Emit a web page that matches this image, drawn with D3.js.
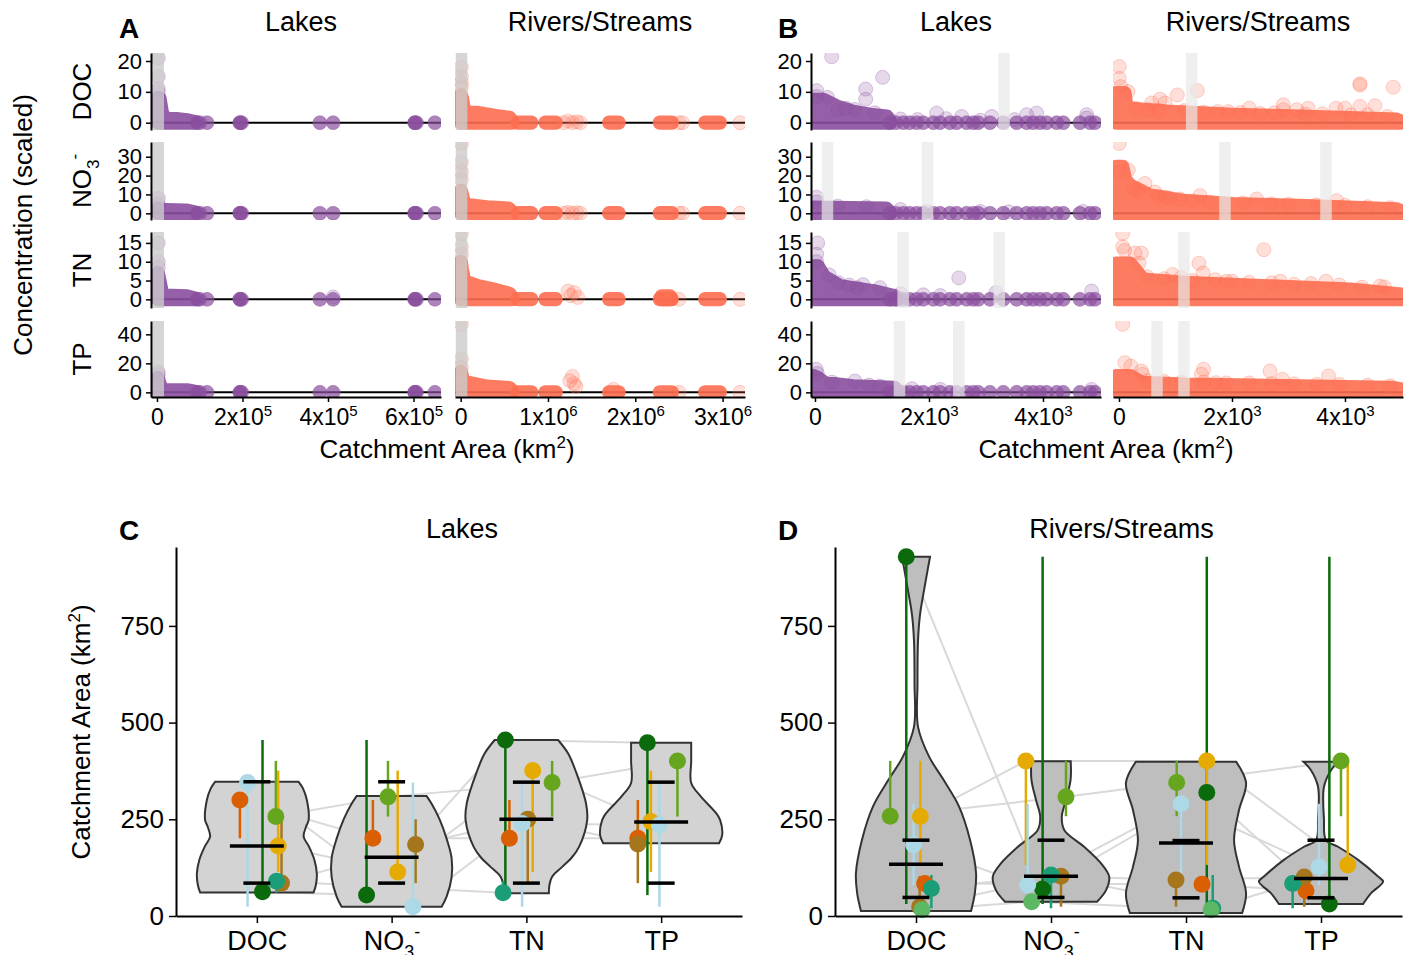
<!DOCTYPE html>
<html>
<head>
<meta charset="utf-8">
<script src="https://cdn.jsdelivr.net/npm/d3@7"></script>
<style>
  body { margin: 0; background: #fff; }
  svg text { font-family: "Liberation Sans", Arial, Helvetica, sans-serif; fill: #000; }
</style>
</head>
<body>
<svg id="chart" width="1413" height="955"></svg>
<script>
// ---------- data: top scatter panels (catchment area vs scaled concentration) ----------
const rowVars = ['DOC', 'NO3', 'TN', 'TP'];
const rowTicks = [[0, 10, 20], [0, 10, 20, 30], [0, 5, 10, 15], [0, 20, 40]];

// A - Lakes
const aLakeTicks = [0, 2e5, 4e5, 6e5];
const aLakeCloud = [
    [[[2000, 8], [6000, 8], [12000, 3], [20000, 1.3], [45000, 1.2], [70000, 0.8], [88000, 0.3]]],
    [[[2000, 2.5], [12000, 2], [20000, 1.7], [70000, 1.5], [88000, 0.5]]],
    [[[2000, 7], [6000, 5], [12000, 1.5], [20000, 1], [70000, 0.8], [88000, 0.3]]],
    [[[2000, 10], [6000, 6], [12000, 2], [20000, 1.5], [70000, 1.5], [88000, 0.5]]]
];
const aLakeTail = [[94000, 0], [100000, 0], [117000, 0], [194000, 0], [194000, 0], [198000, 0],
    [381000, 0], [412000, 0], [603000, 0], [603000, 0], [607000, 0], [650000, 0]];
const aLakePts = [
    [[3000, 21], [3000, 15], [3000, 11], [3000, 10]],
    [[3000, 8], [3000, 5], [3000, 3.5]],
    [[3000, 15], [3000, 10], [3000, 8.5], [412000, 0.6]],
    [[3000, 14], [3000, 12]]
];
const aLakeBand = [[3000], [3000], [3000], [3000]];

// A - Rivers/Streams
const aRiverTicks = [0, 1e6, 2e6, 3e6];
const aRiverClusters = [[[650000, 0.1], [810000, 0.1]], [[970000, 0.1], [1090000, 0.1]],
    [[1700000, 0.1], [1810000, 0.1]], [[2280000, 0.1], [2420000, 0.1]], [[2800000, 0.1], [2970000, 0.1]]];
const aRiverCloud = [
    [[[3000, 9], [15000, 8], [40000, 4], [77000, 3.2], [200000, 3.2], [400000, 2.2], [560000, 1.6], [590000, 0.5]]],
    [[[3000, 12], [15000, 10], [40000, 5], [77000, 4.4], [300000, 3.2], [550000, 2.6], [590000, 0.5]]],
    [[[3000, 10], [15000, 8], [40000, 5], [77000, 4.5], [200000, 3.5], [400000, 2.5], [560000, 1.5], [590000, 0.5]],
     [[2300000, 0.8], [2400000, 0.8]]],
    [[[3000, 14], [20000, 10], [60000, 6.4], [110000, 6.4], [300000, 4], [560000, 3], [590000, 1]]]
];
const aRiverPts = [
    [[8000, 18], [8000, 15], [8000, 13], [8000, 11.5], [1180000, 0], [1230000, 0.5], [1280000, 0],
     [1330000, 0.3], [1370000, 0], [2500000, 0], [2540000, 0], [3200000, 0]],
    [[8000, 37], [8000, 27], [8000, 22], [8000, 18], [1180000, 0], [1230000, 0.5], [1280000, 0],
     [1330000, 0.3], [1370000, 0], [2500000, 0], [2540000, 0], [3200000, 0]],
    [[8000, 17.5], [8000, 14], [8000, 12], [1230000, 2.2], [1260000, 1], [1300000, 1.8], [1340000, 0.5],
     [2500000, 0], [3200000, 0]],
    [[8000, 47], [8000, 23], [8000, 17], [1250000, 8], [1280000, 11], [1300000, 6], [1320000, 4],
     [1750000, 2], [2500000, 0], [3200000, 0]]
];
const aRiverBand = [[10000], [10000], [10000], [10000]];

// B - Lakes (zoom on 0-5000 km2)
const bTicks = [0, 2000, 4000];
const bLakeCloud = [
    [[[-20, 7.4], [150, 7.4], [380, 5.3], [670, 3.6], [965, 2.6], [1260, 2.0], [1320, 0.5]]],
    [[[-20, 3.1], [1250, 2.6], [1320, 0.5]]],
    [[[-20, 8.8], [50, 8.8], [158, 6.1], [447, 3.5], [1030, 2.2], [1395, 0.9], [1450, 0.3]]],
    [[[-20, 11.2], [50, 10], [158, 6.7], [667, 4.3], [1395, 3.2], [1450, 1]]]
];
const bLakeTail = [[1316, 0], [1420, 0], [1550, 0], [1660, 0], [1784, 0], [1900, 0], [2076, 0], [2193, 0],
    [2368, 0], [2486, 0], [2661, 0], [2778, 0], [2865, 0], [3070, 0], [3304, 0], [3538, 0], [3714, 0],
    [3830, 0], [3947, 0], [4064, 0], [4240, 0], [4357, 0], [4649, 0], [4825, 0], [4912, 0]];
const bLakePts = [
    [[30, 10.4], [30, 8.5], [293, 21.4], [1187, 14.7], [889, 10.9], [889, 7.6], [544, 4.7], [400, 4.2],
     [2135, 3.1], [2573, 2.0], [3100, 2.0], [3714, 2.6], [3889, 3.1], [4767, 2.6], [4767, 1.5],
     [220, 8.2], [700, 4.3], [1050, 3.2], [1500, 1.2], [1800, 1.0], [2300, 1.3], [2900, 0.8], [3500, 1.0]],
    [[30, 8.5], [30, 6], [1960, 1], [2900, 1], [3400, 0.8], [4700, 1], [400, 3.8], [900, 3.5], [1500, 2]],
    [[47, 15], [30, 12], [30, 10], [412, 4.4], [737, 3.1], [842, 3.9], [1140, 3.1], [2523, 5.7],
     [3175, 1.8], [4853, 2.2], [1900, 1.2], [250, 6.5], [600, 3.8], [1500, 1.5], [2200, 1.0]],
    [[20, 15.9], [40, 13], [700, 7.8], [1140, 4.3], [2200, 2], [4850, 2], [300, 7], [950, 5], [1700, 2.5]]
];
const bLakeBand = [[3316], [219, 1974], [1547, 3233], [1482, 2523]];

// B - Rivers/Streams
const bRiverCloud = [
    [[[-50, 9.6], [100, 9.6], [136, 4.7], [844, 3.6], [2018, 2.6], [3204, 2.0], [4915, 1.0], [5000, 0.3]]],
    [[[-50, 24.7], [60, 24.7], [110, 18], [195, 14.9], [549, 9.5], [1133, 6.7], [2018, 4.9], [3204, 4.0],
      [4915, 2.2], [5000, 1]]],
    [[[-50, 9.5], [200, 9.5], [425, 5.3], [1168, 4.4], [2640, 3.5], [4100, 2.6], [5000, 1.3]]],
    [[[-50, 11.3], [200, 11.3], [400, 6.7], [1168, 5.5], [4830, 3.2], [5000, 2]]]
];
const bRiverPts = [
    [[5, 18.2], [5, 14.4], [30, 11.7], [160, 10.1], [580, 6.4], [725, 7.6], [815, 6.4], [1032, 9.0],
     [1386, 10.4], [1935, 3.6], [2306, 4.7], [2908, 5.8], [2908, 4.2], [3146, 4.2], [3350, 4.7],
     [3841, 4.7], [4000, 4.7], [4265, 12.6], [4265, 12.2], [4265, 5.3], [4531, 5.5], [4855, 11.5],
     [300, 4.6], [520, 4.2], [700, 4.0], [1150, 3.9], [1500, 3.4], [1750, 3.6], [2150, 3.3], [2500, 3.0],
     [2750, 3.2], [3300, 2.8], [3600, 2.9], [4100, 2.5], [4400, 2.6], [4750, 2.0]],
    [[5, 37], [18, 22], [165, 23], [460, 15.8], [637, 11.3], [814, 8.6], [1080, 7.6], [1434, 9.4],
     [2437, 7.6], [3853, 6.7], [250, 13], [350, 11.5], [700, 9], [900, 8], [1300, 6.5], [1600, 6],
     [2200, 5.5], [2700, 5], [3000, 4.8], [3500, 4.5], [4000, 4.2], [4400, 3.5], [4800, 3]],
    [[65, 17.5], [65, 14], [100, 13], [283, 12.3], [396, 12.3], [354, 9.6], [947, 6.6], [1416, 9.6],
     [1489, 7.0], [2563, 13.2], [1900, 4.8], [2855, 4.8], [3664, 4.8], [4620, 3.5], [500, 6], [800, 5.5],
     [1100, 5.8], [1300, 5], [1700, 5.2], [2000, 4.8], [2300, 4.5], [2700, 4.4], [3100, 4.0], [3400, 4.2],
     [3900, 3.8], [4300, 3.2], [4700, 3.3]],
    [[65, 46.9], [103, 20.5], [212, 18.1], [396, 14.7], [420, 12.4], [1460, 12.4], [1497, 15.9],
     [2673, 14.7], [2892, 9.0], [3708, 11.3], [1717, 6.7], [500, 8], [800, 7.5], [1100, 7], [1500, 7.2],
     [1900, 6.5], [2300, 6.5], [2700, 6], [3100, 5.8], [3500, 5.5], [3900, 5.5], [4400, 5], [4800, 4.5]]
];
const bRiverBand = [[1287], [1876, 3664], [1150], [673, 1150]];

// ---------- data: bottom violin panels (catchment area by variable) ----------
const vioVars = ['DOC', 'NO3', 'TN', 'TP'];
const groupNames = ['darkgreen', 'lightgreen', 'gold', 'orange', 'brown', 'lightblue', 'teal', 'medgreen'];
const areaTicks = [0, 250, 500, 750];

// median catchment area per dataset (rows follow groupNames, columns follow vioVars)
const lakeArea = [
    [63, 54, 455, 448], [257, 308, 345, 401], [181, 114, 376, 244], [300, 201, 201, 201],
    [85, 185, 250, 186], [345, 24, 239, 235], [90, null, 60, null], [null, null, null, null]
];
const lakeJitter = [
    [0.042, -0.186, -0.156, -0.102], [0.141, -0.027, 0.191, 0.121], [0.158, 0.045, 0.047, -0.076],
    [-0.126, -0.139, -0.126, -0.173], [0.183, 0.178, 0.01, -0.173], [-0.069, 0.158, -0.032, -0.013],
    [0.146, 0, -0.173, 0], [0, 0, 0, 0]
];
const riverArea = [
    [929, 70, 319, 31], [258, 308, 345, 401], [257, 401, 401, 132], [84, null, 82, 65],
    [24, 103, 93, 101], [184, 80, 290, 127], [71, 106, 20, 84], [16, 37, 16, null]
];
const riverJitter = [
    [-0.072, -0.062, 0.154, 0.062], [-0.191, 0.111, -0.069, 0.148], [0.032, -0.186, 0.154, 0.198],
    [0.064, 0, 0.119, -0.111], [0.027, 0.074, -0.074, -0.124], [-0.018, -0.173, -0.037, -0.015],
    [0.114, 0, 0.198, -0.21], [0.045, -0.143, 0.186, 0]
];
// quantile bars: [low, mid, high]
const lakeQuant = [[85, 181, 347], [85, 152, 347], [85, 250, 346], [85, 243, 346]];
const riverQuant = [[48, 134, 196], [48, 103, 196], [47, 189, 195], [47, 97, 196]];

// violin outlines: [area, half width as share of category step]
const lakeViolin = [
    [[61, 0.421], [80, 0.438], [110, 0.445], [145, 0.427], [180, 0.386], [205, 0.347], [230, 0.364],
     [248, 0.384], [300, 0.371], [330, 0.342], [347, 0.31]],
    [[24, 0.371], [50, 0.408], [100, 0.445], [150, 0.445], [200, 0.408], [250, 0.356], [290, 0.297], [310, 0.26]],
    [[59, 0.167], [80, 0.171], [101, 0.19], [127, 0.266], [150, 0.334], [178, 0.39], [248, 0.451],
     [292, 0.442], [370, 0.371], [420, 0.31], [455, 0.235]],
    [[188, 0.43], [209, 0.453], [248, 0.438], [266, 0.408], [308, 0.297], [344, 0.223], [400, 0.223], [448, 0.223]]
];
const riverViolin = [
    [[13, 0.408], [59, 0.436], [110, 0.445], [196, 0.401], [283, 0.319], [352, 0.204], [412, 0.097],
     [489, 0.015], [600, 0.011], [713, 0.015], [780, 0.03], [843, 0.06], [900, 0.089], [929, 0.104]],
    [[37, 0.341], [67, 0.408], [102, 0.431], [136, 0.371], [179, 0.245], [222, 0.099], [257, 0.08],
     [300, 0.111], [352, 0.145], [400, 0.146]],
    [[8, 0.416], [59, 0.445], [127, 0.393], [196, 0.356], [274, 0.393], [344, 0.445], [399, 0.371]],
    [[31, 0.312], [59, 0.371], [89, 0.46], [102, 0.423], [145, 0.275], [179, 0.126], [196, 0.037],
     [250, 0.022], [334, 0.022], [377, 0.074], [399, 0.13]]
];

// ---------- styles ----------
const lakeColor = '#8a4f9e';
const riverColor = '#fd6e50';
const groupColors = {
    darkgreen: '#0b6a0b', lightgreen: '#66a61e', gold: '#e6ab02', orange: '#d95f02',
    brown: '#a6761d', lightblue: '#add8e6', teal: '#1b9e77', medgreen: '#5cb865'
};
const svg = d3.select('#chart');

function addVarLabel(sel, v, subSize) {
    if (v === 'NO3') {
        sel.append('tspan').text('NO');
        sel.append('tspan').attr('dy', subSize * 0.45).style('font-size', subSize + 'px').text('3');
        sel.append('tspan').attr('dy', -subSize * 1.1).style('font-size', subSize + 'px').text('-');
    } else {
        sel.text(v);
    }
}

function sciLabel(sel, v) {
    sel.text(null);
    if (v === 0) { sel.text('0'); return; }
    const e = Math.floor(Math.log10(v));
    const m = Math.round(v / Math.pow(10, e));
    sel.append('tspan').text(m + 'x10');
    sel.append('tspan').attr('dy', -9).style('font-size', '15px').text(e);
}

// ---------- top panels ----------
const rows = [
    { top: 53, bottom: 130, dom: [-2.37, 22.6] },
    { top: 142, bottom: 220, dom: [-3.55, 37.8] },
    { top: 232, bottom: 308, dom: [-2.3, 17.9] },
    { top: 321, bottom: 397, dom: [-3.2, 49.2] }
];
const topCols = [
    { left: 151, right: 441, dom: [-14000, 664300], ticks: aLakeTicks, color: lakeColor, yAxis: true,
      cloud: aLakeCloud, pts: aLakePts, tail: aLakeTail, band: aLakeBand, bandFill: '#cccccc', bandOp: 0.8 },
    { left: 455, right: 745, dom: [-65000, 3257000], ticks: aRiverTicks, color: riverColor, yAxis: false,
      cloud: aRiverCloud, pts: aRiverPts, tail: [], clusters: aRiverClusters, band: aRiverBand,
      bandFill: '#cccccc', bandOp: 0.8 },
    { left: 811, right: 1101, dom: [-70, 5018], ticks: bTicks, color: lakeColor, yAxis: true,
      cloud: bLakeCloud, pts: bLakePts, tail: bLakeTail, band: bLakeBand, bandFill: '#e8e8e8', bandOp: 0.7 },
    { left: 1113, right: 1403, dom: [-106, 5027], ticks: bTicks, color: riverColor, yAxis: false,
      cloud: bRiverCloud, pts: bRiverPts, tail: [], band: bRiverBand, bandFill: '#e8e8e8', bandOp: 0.7 }
];

const defs = svg.append('defs');

topCols.forEach((col, ci) => {
    const x = d3.scaleLinear().domain(col.dom).range([col.left, col.right]);

    rows.forEach((row, ri) => {
        const y = d3.scaleLinear().domain(row.dom).range([row.bottom, row.top]);
        const clipId = `clip-${ci}-${ri}`;
        defs.append('clipPath').attr('id', clipId)
            .append('rect')
            .attr('x', col.left).attr('y', row.top)
            .attr('width', col.right - col.left).attr('height', row.bottom - row.top);

        const g = svg.append('g').attr('clip-path', `url(#${clipId})`);

        // zero line
        g.append('line')
            .attr('x1', col.left).attr('x2', col.right)
            .attr('y1', y(0)).attr('y2', y(0))
            .attr('stroke', '#000').attr('stroke-width', 2);

        // dense clouds of overlapping points
        const area = d3.area()
            .x(d => x(d[0]))
            .y0(y(0))
            .y1(d => y(d[1]));
        const clouds = col.cloud[ri].concat(col.clusters || []);
        g.selectAll('.cloud')
            .data(clouds)
            .enter()
            .append('path')
            .attr('d', area)
            .attr('fill', col.color)
            .attr('stroke', col.color)
            .attr('stroke-width', 14)
            .attr('stroke-linejoin', 'round')
            .attr('stroke-linecap', 'round')
            .style('opacity', 0.9);

        // single points along the zero line
        g.selectAll('.tail')
            .data(col.tail)
            .enter()
            .append('circle')
            .attr('cx', d => x(d[0]))
            .attr('cy', d => y(d[1]))
            .attr('r', 7)
            .attr('fill', col.color)
            .attr('fill-opacity', 0.7)
            .attr('stroke', col.color)
            .attr('stroke-opacity', 0.4);

        // sparse points
        g.selectAll('.pt')
            .data(col.pts[ri])
            .enter()
            .append('circle')
            .attr('cx', d => x(d[0]))
            .attr('cy', d => y(d[1]))
            .attr('r', 7)
            .attr('fill', col.color)
            .attr('fill-opacity', 0.22)
            .attr('stroke', col.color)
            .attr('stroke-opacity', 0.3)
            .attr('stroke-width', 1);

        // highlight bands
        g.selectAll('.band')
            .data(col.band[ri])
            .enter()
            .append('rect')
            .attr('x', d => x(d) - 5.75)
            .attr('y', row.top)
            .attr('width', 11.5)
            .attr('height', row.bottom - row.top)
            .attr('fill', col.bandFill)
            .style('opacity', col.bandOp);

        if (col.yAxis) {
            const ax = svg.append('g')
                .attr('transform', `translate(${col.left},0)`)
                .call(d3.axisLeft(y).tickValues(rowTicks[ri]).tickSize(5).tickSizeOuter(0).tickPadding(4));
            ax.select('.domain').attr('stroke-width', 2);
            ax.selectAll('.tick line').attr('stroke-width', 1.5);
            ax.selectAll('.tick text').style('font-size', '22px').attr('font-family', null);
        }
    });

    const xa = svg.append('g')
        .attr('transform', `translate(0,${rows[3].bottom})`)
        .call(d3.axisBottom(x).tickValues(col.ticks).tickSize(5).tickSizeOuter(0).tickPadding(7));
    xa.select('.domain').attr('stroke-width', 2);
    xa.selectAll('.tick line').attr('stroke-width', 1.5);
    xa.selectAll('.tick text').style('font-size', '23px').attr('font-family', null)
        .each(function(d) { sciLabel(d3.select(this), d); });
});

// facet titles and labels, top
const facetTitles = [['Lakes', 0], ['Rivers/Streams', 1], ['Lakes', 2], ['Rivers/Streams', 3]];
facetTitles.forEach(([t, ci]) => {
    svg.append('text')
        .attr('x', (topCols[ci].left + topCols[ci].right) / 2 + (ci === 0 ? 5 : 0))
        .attr('y', 31)
        .attr('text-anchor', 'middle')
        .style('font-size', '27px')
        .text(t);
});

rowVars.forEach((v, ri) => {
    const cy = (rows[ri].top + rows[ri].bottom) / 2;
    const t = svg.append('text')
        .attr('transform', `translate(91,${cy}) rotate(-90)`)
        .attr('text-anchor', 'middle')
        .style('font-size', '26px');
    addVarLabel(t, v, 17);
});

svg.append('text')
    .attr('transform', 'translate(32,225) rotate(-90)')
    .attr('text-anchor', 'middle')
    .style('font-size', '26px')
    .text('Concentration (scaled)');

function areaTitle(sel) {
    sel.append('tspan').text('Catchment Area (km');
    sel.append('tspan').attr('dy', -10).style('font-size', '17px').text('2');
    sel.append('tspan').attr('dy', 10).text(')');
}
areaTitle(svg.append('text').attr('x', 447).attr('y', 458).attr('text-anchor', 'middle').style('font-size', '26px'));
areaTitle(svg.append('text').attr('x', 1106).attr('y', 458).attr('text-anchor', 'middle').style('font-size', '26px'));

[['A', 119, 38], ['B', 778, 38], ['C', 119, 540], ['D', 778, 540]].forEach(([l, lx, ly]) => {
    svg.append('text').attr('x', lx).attr('y', ly)
        .style('font-size', '28px').style('font-weight', 'bold').text(l);
});

// ---------- bottom violin panels ----------
const yArea = d3.scaleLinear().domain([0, 954]).range([916, 547]);

const vioPanels = [
    { left: 176, right: 742, title: 'Lakes', area: lakeArea, jitter: lakeJitter, quant: lakeQuant,
      violin: lakeViolin, fill: '#d3d3d3' },
    { left: 835, right: 1402, title: 'Rivers/Streams', area: riverArea, jitter: riverJitter, quant: riverQuant,
      violin: riverViolin, fill: '#bebebe' }
];

vioPanels.forEach(p => {
    const x = d3.scalePoint().domain(vioVars).range([p.left, p.right]).padding(0.6);
    const step = x.step();
    const g = svg.append('g');

    // per-dataset points
    const groups = groupNames.map((name, gi) => ({
        name: name,
        pts: vioVars.map((v, vi) => ({ v: v, val: p.area[gi][vi], dx: p.jitter[gi][vi] }))
            .filter(d => d.val !== null)
    })).filter(d => d.pts.length > 0);
    groups.forEach(d => { d.ext = d3.extent(d.pts, q => q.val); });

    const px = d => x(d.v) + d.dx * step;

    // connecting lines between variables
    const link = d3.line().x(px).y(d => yArea(d.val));
    g.selectAll('.link')
        .data(groups)
        .enter()
        .append('path')
        .attr('d', d => link(d.pts))
        .attr('fill', 'none')
        .attr('stroke', '#d9d9d9')
        .attr('stroke-width', 2);

    // violins
    const side = d3.line().curve(d3.curveCatmullRom.alpha(0.5));
    g.selectAll('.violin')
        .data(vioVars)
        .enter()
        .append('path')
        .attr('d', (v, vi) => {
            const prof = p.violin[vi];
            const cx = x(v);
            const right = prof.map(([a, w]) => [cx + w * step, yArea(a)]);
            const left = prof.slice().reverse().map(([a, w]) => [cx - w * step, yArea(a)]);
            return side(right) + side(left).replace(/^M/, 'L') + 'Z';
        })
        .attr('fill', p.fill)
        .attr('stroke', '#333')
        .attr('stroke-width', 2);

    // range lines and points of each dataset
    groups.forEach(grp => {
        const c = groupColors[grp.name];
        g.selectAll(null)
            .data(grp.pts)
            .enter()
            .append('line')
            .attr('x1', px).attr('x2', px)
            .attr('y1', yArea(grp.ext[0])).attr('y2', yArea(grp.ext[1]))
            .attr('stroke', c)
            .attr('stroke-width', 2.5);
    });
    groups.forEach(grp => {
        const c = groupColors[grp.name];
        g.selectAll(null)
            .data(grp.pts)
            .enter()
            .append('circle')
            .attr('cx', px)
            .attr('cy', d => yArea(d.val))
            .attr('r', 8.5)
            .attr('fill', c);
    });

    // quantile bars
    vioVars.forEach((v, vi) => {
        p.quant[vi].forEach((q, qi) => {
            const hw = qi === 1 ? 0.2 : 0.1;
            g.append('line')
                .attr('x1', x(v) - hw * step).attr('x2', x(v) + hw * step)
                .attr('y1', yArea(q)).attr('y2', yArea(q))
                .attr('stroke', '#000')
                .attr('stroke-width', 3.5);
        });
    });

    // axes
    const ya = svg.append('g')
        .attr('transform', `translate(${p.left},0)`)
        .call(d3.axisLeft(yArea).tickValues(areaTicks).tickSize(7).tickSizeOuter(0).tickPadding(5));
    ya.select('.domain').attr('stroke-width', 2);
    ya.selectAll('.tick line').attr('stroke-width', 1.5);
    ya.selectAll('.tick text').style('font-size', '26px').attr('font-family', null);

    const xa = svg.append('g')
        .attr('transform', `translate(0,916)`)
        .call(d3.axisBottom(x).tickSize(7).tickSizeOuter(0).tickPadding(8));
    xa.select('.domain').attr('stroke-width', 2);
    xa.selectAll('.tick line').attr('stroke-width', 1.5);
    xa.selectAll('.tick text').style('font-size', '27px').attr('font-family', null)
        .each(function(d) { const t = d3.select(this); t.text(null); addVarLabel(t, d, 18); });

    svg.append('text')
        .attr('x', (p.left + p.right) / 2 + 3)
        .attr('y', 538)
        .attr('text-anchor', 'middle')
        .style('font-size', '27px')
        .text(p.title);
});

const yt = svg.append('text')
    .attr('transform', 'translate(90,732) rotate(-90)')
    .attr('text-anchor', 'middle')
    .style('font-size', '26px');
areaTitle(yt);
</script>
</body>
</html>
